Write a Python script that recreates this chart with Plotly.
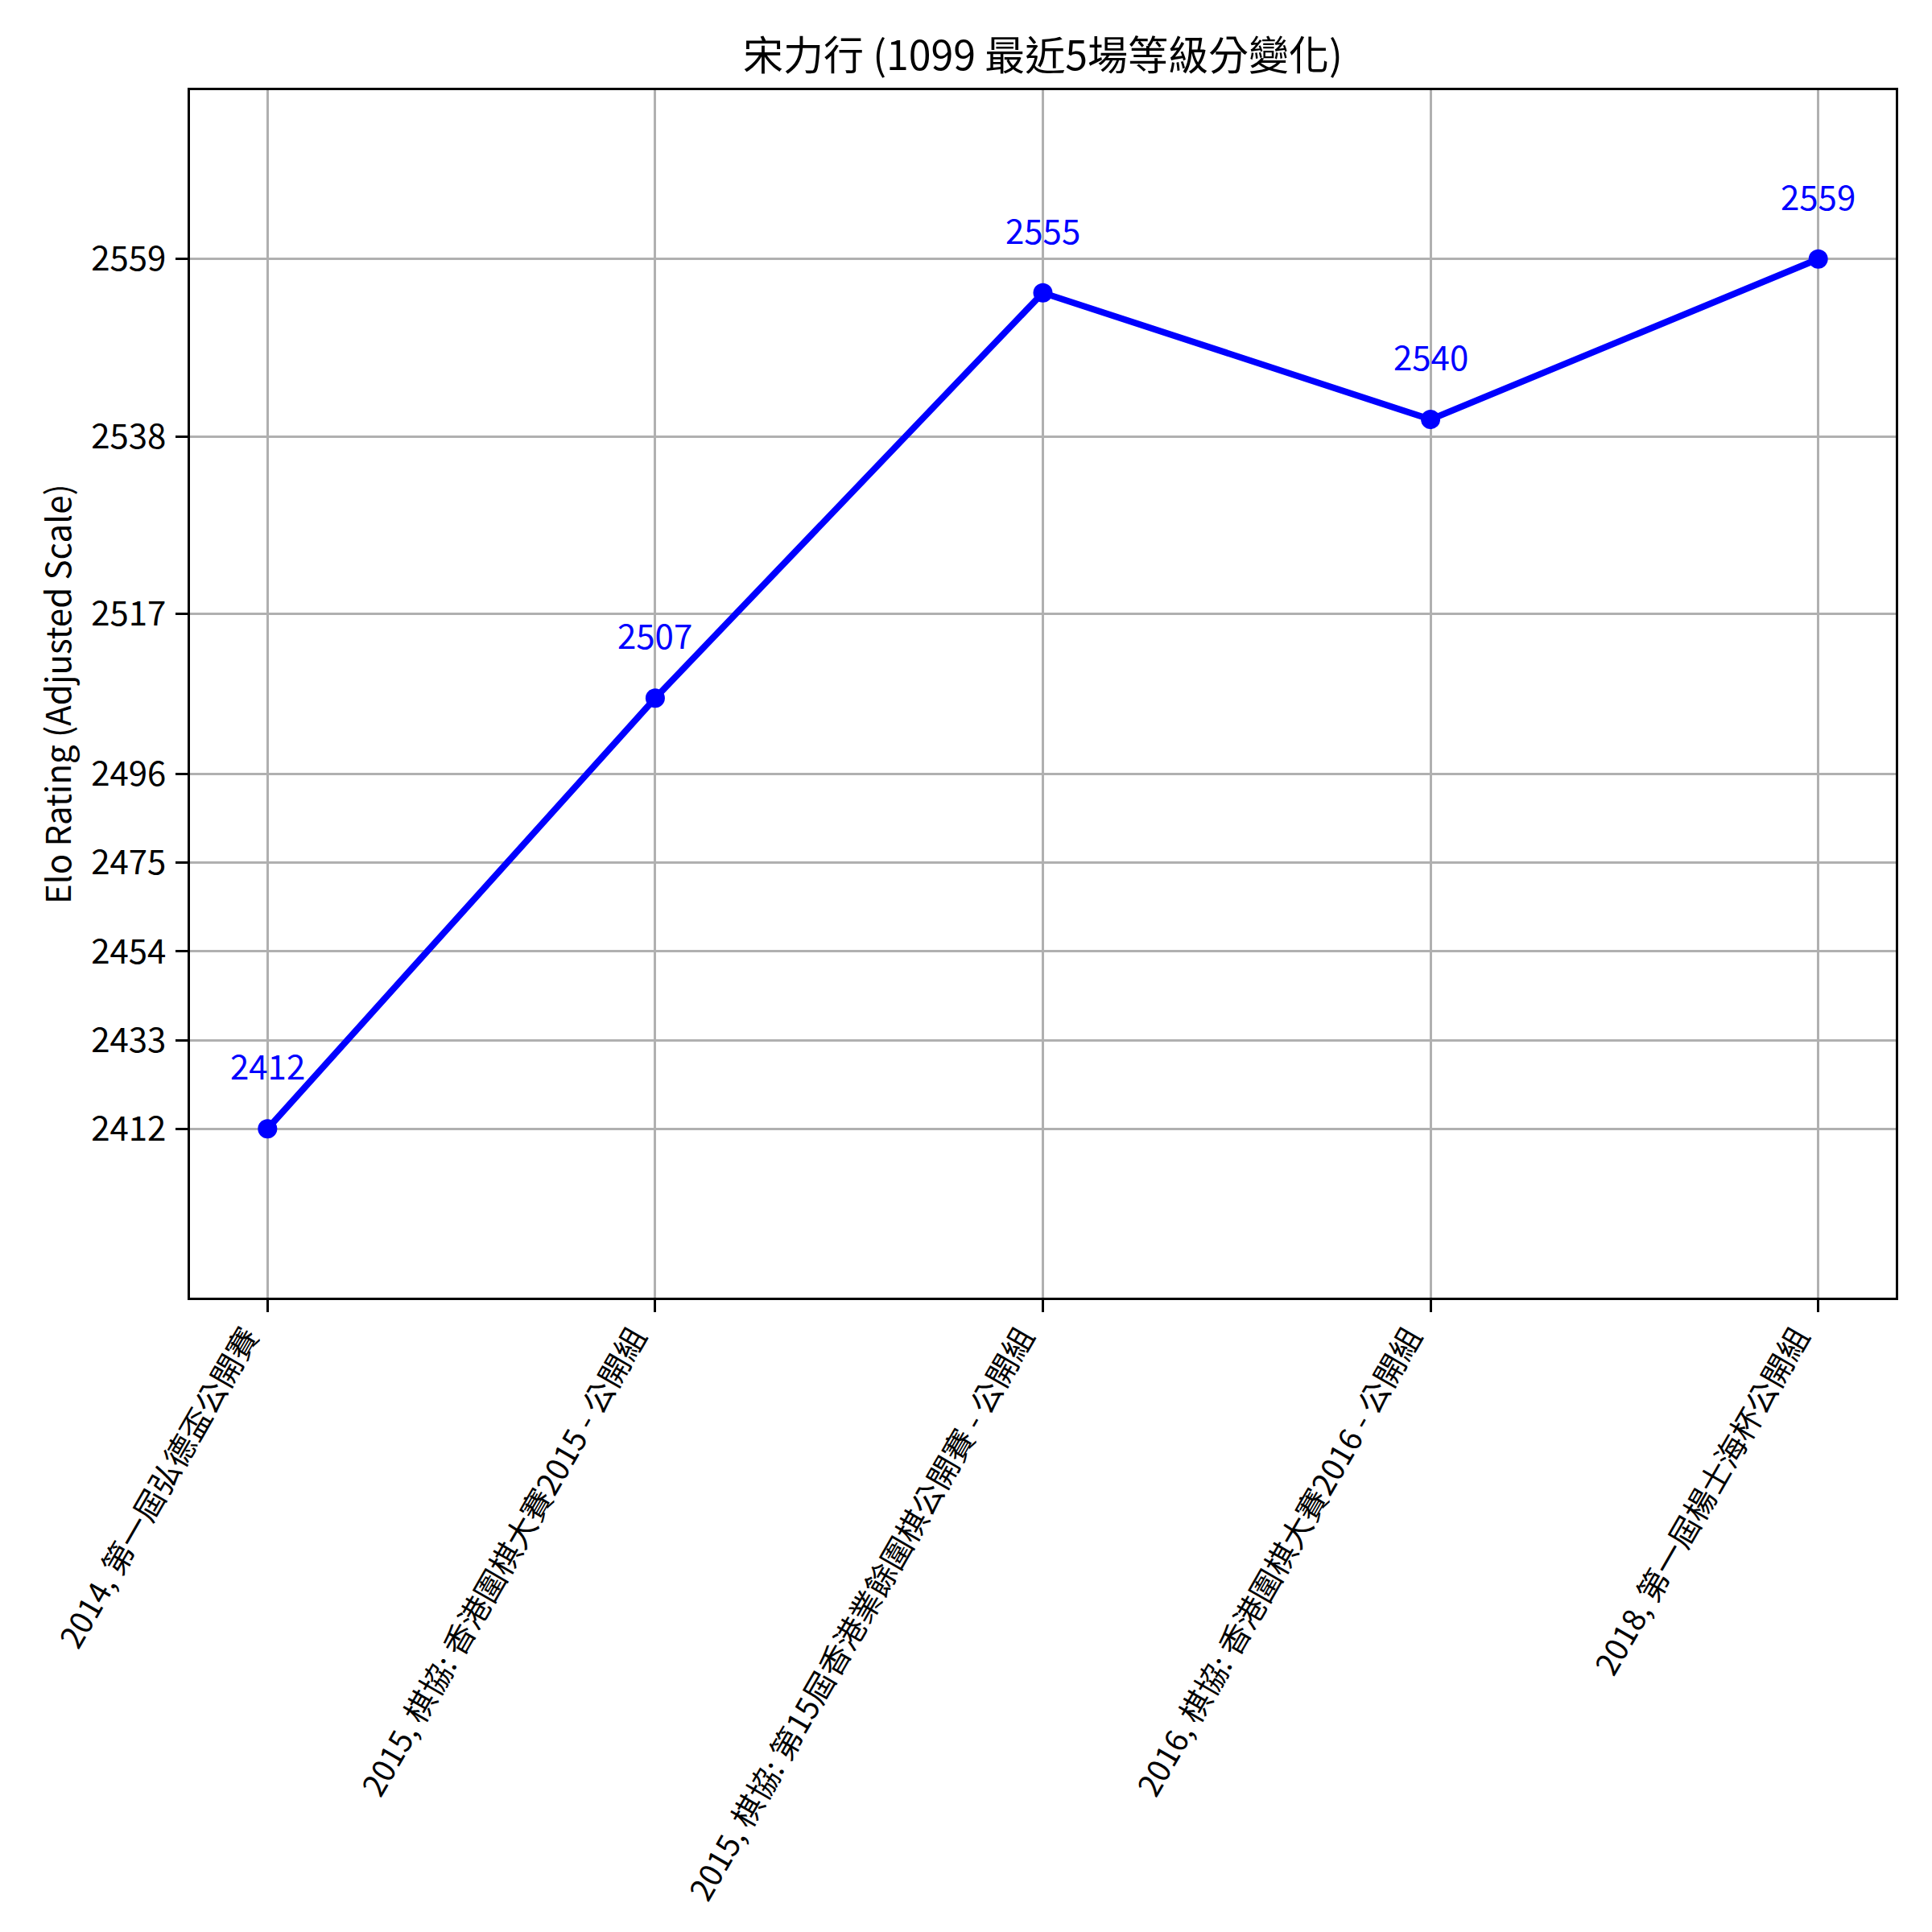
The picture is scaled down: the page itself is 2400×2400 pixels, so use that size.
import plotly.graph_objects as go

# ---- data ----
events = [
    "2014, 第一屆弘德盃公開賽",
    "2015, 棋協: 香港圍棋大賽2015 - 公開組",
    "2015, 棋協: 第15屆香港業餘圍棋公開賽 - 公開組",
    "2016, 棋協: 香港圍棋大賽2016 - 公開組",
    "2018, 第一屆楊士海杯公開組",
]
ratings = [2412, 2507, 2555, 2540, 2559]
tick_values = [2412, 2433, 2454, 2475, 2496, 2517, 2538, 2559]

title_text = "宋力行 (1099 最近5場等級分變化)"
ylabel = "Elo Rating (Adjusted Scale)"

# adjusted scale: values below the threshold are compressed
THRESH = 2500
FACTOR = 0.5


def adj(v):
    return v if v >= THRESH else THRESH + (v - THRESH) * FACTOR


x_idx = list(range(len(events)))
y_adj = [adj(v) for v in ratings]
tick_adj = [adj(v) for v in tick_values]

FONT = "Noto Sans CJK TC, Noto Sans, DejaVu Sans, sans-serif"
BLUE = "#0000ff"

fig = go.Figure()
fig.add_trace(go.Scatter(
    x=x_idx, y=y_adj, mode="lines+markers",
    line=dict(color=BLUE, width=8),
    marker=dict(color=BLUE, size=24),
    showlegend=False,
))

for xi, yi, v in zip(x_idx, y_adj, ratings):
    fig.add_annotation(
        x=xi, y=yi, text=str(v), showarrow=False,
        xanchor="center", yanchor="bottom", yshift=47,
        font=dict(family=FONT, size=42, color=BLUE),
    )

# y-axis title (placed as a rotated annotation left of the tick labels)
fig.add_annotation(
    xref="paper", yref="paper", x=-0.0788, y=0.5, text=ylabel,
    textangle=-90, showarrow=False, xanchor="center", yanchor="middle",
    font=dict(family=FONT, size=42, color="black"),
)

pad = 20
fig.update_layout(
    width=2400, height=2400,
    paper_bgcolor="white", plot_bgcolor="white",
    margin=dict(l=236, r=45, t=112, b=788),
    title=dict(text=title_text, xref="paper", x=0.5, xanchor="center",
               y=1 - 69 / 2400, yanchor="middle", automargin=False,
               font=dict(family=FONT, size=50, color="black")),
    font=dict(family=FONT, size=42, color="black"),
)
fig.update_xaxes(
    range=[-0.2, len(events) - 1 + 0.2],
    tickmode="array", tickvals=x_idx, ticktext=events, tickangle=-60,
    showgrid=True, gridcolor="#b0b0b0", gridwidth=3.3,
    showline=True, mirror=True, linecolor="black", linewidth=3.3,
    ticks="outside", ticklen=15, tickwidth=3.3, tickcolor="black",
    tickfont=dict(family=FONT, size=38.5, color="black"),
    ticklabelshift=-26, ticklabelstandoff=-7,
    zeroline=False, automargin=False,
)
fig.update_yaxes(
    range=[min(y_adj) - pad, max(y_adj) + pad],
    tickmode="array", tickvals=tick_adj, ticktext=[str(t) for t in tick_values],
    showgrid=True, gridcolor="#b0b0b0", gridwidth=3.3,
    showline=True, mirror=True, linecolor="black", linewidth=3.3,
    ticks="outside", ticklen=15, tickwidth=3.3, tickcolor="black",
    tickfont=dict(family=FONT, size=42, color="black"),
    ticklabelstandoff=3,
    zeroline=False, automargin=False,
)

fig.write_html("out.html", config={"displayModeBar": False},
               post_script="document.body.style.margin='0';")
